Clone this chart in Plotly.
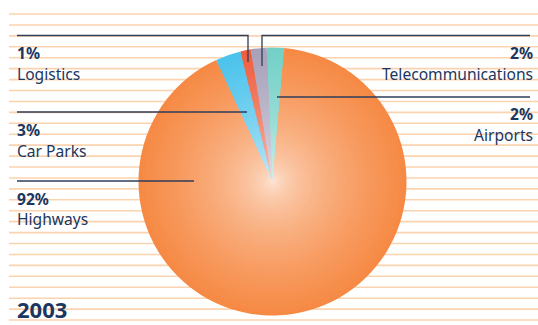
import plotly.graph_objects as go

# ---- data ----
labels = ["Airports", "Highways", "Car Parks", "Logistics", "Telecommunications"]
values = [2.1, 91.7, 3.05, 1.25, 1.9]
pct_text = ["2%", "92%", "3%", "1%", "2%"]
edge_colors = ["#72D0C6", "#F68A45", "#4CC3EC", "#EF5E3E", "#A8A1BA"]
year = "2003"

W, H = 538, 325
cx, cy, R = 272.5, 181.5, 134.0
NAVY = "#1B3660"
LINE = "#2E3C58"

def hex2rgb(h):
    h = h.lstrip("#")
    return tuple(int(h[i:i + 2], 16) for i in (0, 2, 4))

def mix(c, a):
    r, g, b = hex2rgb(c)
    return "rgb(%d,%d,%d)" % (round(255 + (r - 255) * a), round(255 + (g - 255) * a), round(255 + (b - 255) * a))

fig = go.Figure()

# background stripes
sx, sy = [], []
for k in range(29):
    y = 14 + k * 10.93
    sx += [9, 538, None]
    sy += [y, y, None]
fig.add_trace(go.Scatter(x=sx, y=sy, mode="lines", line=dict(color="#FCD3AF", width=1.6),
                         hoverinfo="skip", showlegend=False))

# nested pies -> radial gradient
N = 40
for i in range(N):
    f = 1 - i / N
    a = 0.12 + 0.88 * f ** 0.5
    r = R * f
    fig.add_trace(go.Pie(
        labels=labels, values=values, sort=False, direction="clockwise", rotation=-2.5,
        marker=dict(colors=[mix(c, a) for c in edge_colors], line=dict(width=0)),
        textinfo="none", hoverinfo="skip", showlegend=False,
        domain=dict(x=[(cx - r) / W, (cx + r) / W], y=[1 - (cy + r) / H, 1 - (cy - r) / H]),
    ))

# leader lines
leaders = [
    [(17, 35.5), (248, 35.5), (248, 62)],      # Logistics
    [(530, 35.5), (262, 35.5), (262, 66)],     # Telecommunications
    [(17, 112), (247, 112)],                   # Car Parks
    [(530, 97), (277, 97)],                    # Airports
    [(17, 181), (194, 181)],                   # Highways
]
for pts in leaders:
    path = "M " + " L ".join("%g,%g" % p for p in pts)
    fig.add_shape(type="path", path=path, xref="x", yref="y", layer="above",
                  line=dict(color=LINE, width=1.3))

FONT = "Noto Sans"
def label(x, ypct, ylab, pct, name, anchor):
    fig.add_annotation(x=x, y=ypct, text="<b>%s</b>" % pct, showarrow=False, xanchor=anchor,
                       yanchor="middle", font=dict(family=FONT, size=15.6, color=NAVY))
    fig.add_annotation(x=x, y=ylab, text=name, showarrow=False, xanchor=anchor,
                       yanchor="middle", font=dict(family=FONT, size=15.6, color=NAVY))

label(15, 52.5, 73.5, pct_text[3], labels[3], "left")
label(15, 129.5, 150.5, pct_text[2], labels[2], "left")
label(15, 198.5, 218.5, pct_text[1], labels[1], "left")
label(535, 52.5, 73.5, pct_text[4], labels[4], "right")
label(535, 113.5, 134.5, pct_text[0], labels[0], "right")
fig.add_annotation(x=15, y=309, text="<b>%s</b>" % year, showarrow=False, xanchor="left",
                   yanchor="middle", font=dict(family=FONT, size=22, color=NAVY))

fig.update_layout(
    width=W, height=H, margin=dict(l=0, r=0, t=0, b=0),
    paper_bgcolor="white", plot_bgcolor="white",
    xaxis=dict(range=[0, W], visible=False, fixedrange=True),
    yaxis=dict(range=[H, 0], visible=False, fixedrange=True),
)
fig.write_html("out.html")
